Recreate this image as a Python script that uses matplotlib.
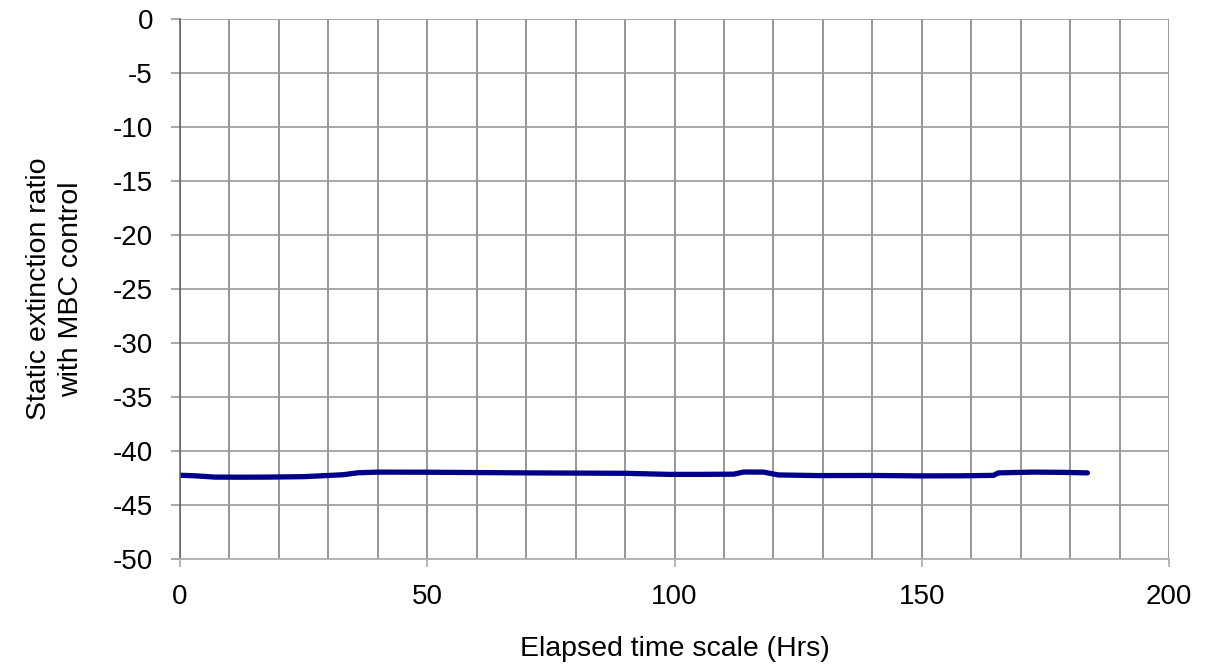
import numpy as np
import matplotlib
matplotlib.use("Agg")
import matplotlib.pyplot as plt
from matplotlib.ticker import MultipleLocator

# Data
hours = [0, 3, 7, 12, 18, 25, 30, 33, 36, 40, 50, 60, 70, 80, 90, 99, 105,
         112, 114, 118, 121, 129, 140, 150, 158, 164.5, 165.5, 172.5, 178, 183.5]
ratio = [-42.25, -42.3, -42.42, -42.43, -42.42, -42.38, -42.27, -42.2, -42.02,
         -41.96, -41.97, -42.0, -42.03, -42.05, -42.07, -42.17, -42.17,
         -42.15, -41.95, -41.96, -42.22, -42.28, -42.27, -42.31, -42.3,
         -42.26, -42.03, -41.96, -41.98, -42.03]

plt.rcParams['font.family'] = ['Liberation Sans', 'DejaVu Sans']
plt.rcParams['axes.unicode_minus'] = False

fig = plt.figure(figsize=(12.18, 6.65), dpi=100)
ax = fig.add_axes([180 / 1218, 1 - 559 / 665, (1169 - 180) / 1218, (559 - 18.7) / 665])

ax.plot(hours, ratio, color='#00008b', lw=3.8, solid_capstyle='round')

ax.set_xlim(0, 200)
ax.set_ylim(-50, 0)
ax.xaxis.set_major_locator(MultipleLocator(50))
ax.xaxis.set_minor_locator(MultipleLocator(10))
ax.yaxis.set_major_locator(MultipleLocator(5))

ax.grid(axis='x', which='both', color='#7a7a7a', lw=1.1)
ax.grid(axis='y', which='major', color='#9a9a9a', lw=1.2)
ax.set_axisbelow(True)

for side in ['top', 'right']:
    ax.spines[side].set_visible(False)
ax.spines['bottom'].set_color('#b0b0b0')
ax.spines['bottom'].set_linewidth(1.3)
ax.spines['left'].set_color('#606060')
ax.spines['left'].set_linewidth(1.1)

ax.tick_params(axis='x', which='major', length=6, color='#b0b0b0', width=1.3,
               labelsize=20, pad=12)
ax.tick_params(axis='x', which='minor', length=0)
ax.tick_params(axis='y', length=6.5, color='#a0a0a0', width=1.3, labelsize=20, pad=13)

ax.set_xlabel('Elapsed time scale (Hrs)', fontsize=20.5)
ax.set_ylabel('Static extinction ratio\nwith MBC control', fontsize=20.5,
              linespacing=1.3)
ax.xaxis.set_label_coords(0.5, -0.142)
ax.yaxis.set_label_coords(-0.097, 0.5)

fig.savefig('out.png', dpi=100)
